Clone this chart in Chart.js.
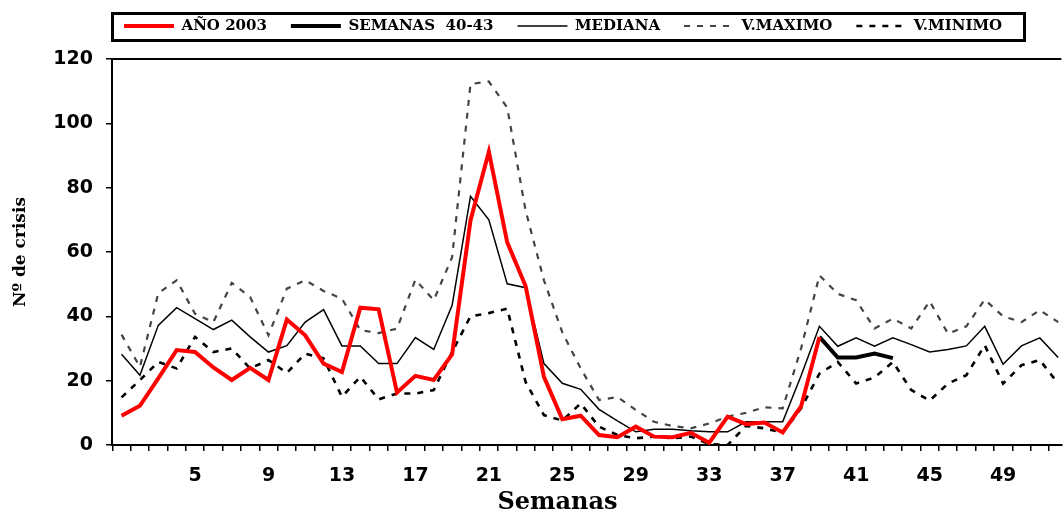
<!DOCTYPE html>
<html>
<head>
<meta charset="utf-8">
<script src="https://cdn.jsdelivr.net/npm/chart.js"></script>
<style>
  body { margin: 0; background: #fff; }
  #contenedor { width: 1063px; height: 515px; }
</style>
</head>
<body>
<div id="contenedor"><canvas id="grafico" width="1063" height="515"></canvas></div>
<script>
// Semanas 1 a 52
const semanas = Array.from({ length: 52 }, (_, i) => i + 1);

// Datos
const anio2003 = [9.1, 12.2, 20.7, 29.5, 28.9, 24.1, 20.2, 24.0, 20.2, 39.0,
  34.1, 25.3, 22.7, 42.7, 42.2, 16.3, 21.5, 20.2, 28.2, 69.8,
  91.2, 63.0, 49.4, 21.2, 8.0, 9.1, 3.1, 2.4, 5.7, 2.6,
  2.4, 3.8, 0.7, 8.8, 6.5, 7.0, 3.9, 12.0, 33.6];

// semanas 39 a 43
const semanas4043 = [33.6, 27.2, 27.2, 28.4, 27.0];

const mediana = [28.2, 21.7, 37.2, 42.7, 39.3, 35.9, 38.8, 33.6, 28.9, 30.9,
  38.2, 42.1, 30.8, 30.8, 25.3, 25.3, 33.4, 29.7, 43.4, 77.3,
  70.0, 50.1, 48.9, 25.3, 19.2, 17.3, 11.1, 7.5, 4.1, 4.9,
  4.9, 4.4, 4.1, 4.1, 7.2, 7.2, 7.2, 21.5, 36.9, 30.7,
  33.3, 30.7, 33.3, 31.2, 28.9, 29.7, 30.8, 36.9, 25.1, 30.8,
  33.3, 27.2];

const vMaximo = [34.3, 24.3, 47.2, 51.2, 40.8, 38.2, 50.4, 46.0, 34.1, 48.6,
  51.2, 47.9, 45.5, 35.7, 34.8, 36.2, 51.4, 45.0, 58.4, 112.2,
  113.0, 104.9, 72.9, 51.2, 35.0, 23.8, 14.0, 14.9, 10.9, 7.2,
  5.9, 5.2, 6.7, 8.8, 10.0, 11.7, 11.4, 30.0, 52.7, 47.0,
  45.0, 36.2, 39.3, 36.2, 44.7, 34.6, 36.9, 45.2, 40.0, 38.2,
  41.9, 38.2];

const vMinimo = [14.8, 20.2, 25.8, 23.8, 33.6, 28.9, 30.0, 23.8, 26.4, 22.4,
  28.4, 26.9, 15.0, 21.2, 14.2, 16.0, 16.0, 17.1, 28.9, 40.0,
  41.0, 42.4, 19.6, 9.3, 7.6, 12.9, 5.7, 3.1, 2.1, 2.6,
  2.1, 2.6, 0.3, 0.0, 5.9, 5.2, 3.8, 11.4, 22.2, 25.8,
  19.1, 21.0, 25.8, 17.1, 13.8, 19.1, 21.7, 31.0, 19.1, 24.8,
  26.4, 19.1];

const ticksY = [0, 20, 40, 60, 80, 100, 120];

// pasar una serie a puntos {x, y}
function puntos(valores, desde) {
  return valores.map((v, i) => ({ x: desde + i, y: v }));
}

// marco de la leyenda y linea superior del area
const marco = {
  id: 'marco',
  beforeDraw(chart) {
    const lg = chart.legend;
    lg.left = 100;
    lg.right = 1063;
    lg.top = -5.5;
  },
  afterDraw(chart) {
    const { ctx, chartArea } = chart;
    ctx.save();
    ctx.strokeStyle = '#000';
    ctx.lineWidth = 3;
    ctx.strokeRect(112.5, 13.5, 912, 27);
    ctx.lineWidth = 2;
    ctx.beginPath();
    ctx.moveTo(chartArea.left, chartArea.top);
    ctx.lineTo(chartArea.right, chartArea.top);
    ctx.stroke();
    ctx.restore();
  }
};

// leyenda con el trazo (grosor y guiones) de cada serie
function etiquetas(chart) {
  const base = Chart.defaults.plugins.legend.labels.generateLabels(chart);
  return base.map((it) => {
    const ds = chart.data.datasets[it.datasetIndex];
    return {
      ...it,
      strokeStyle: ds.borderColor,
      lineWidth: ds.borderWidth,
      lineDash: ds.borderDash || []
    };
  });
}

const fuenteNum = { family: 'DejaVu Sans', weight: 'bold', size: 19 };
const fuenteSerif = { family: 'DejaVu Serif', weight: 'bold' };

new Chart(document.getElementById('grafico'), {
  type: 'line',
  data: {
    datasets: [
      {
        label: 'AÑO 2003',
        data: puntos(anio2003, 1),
        borderColor: '#ff0000',
        backgroundColor: '#ff0000',
        borderWidth: 4,
        pointRadius: 0,
        tension: 0
      },
      {
        label: 'SEMANAS  40-43',
        data: puntos(semanas4043, 39),
        borderColor: '#000',
        backgroundColor: '#000',
        borderWidth: 4,
        pointRadius: 0,
        tension: 0
      },
      {
        label: 'MEDIANA',
        data: puntos(mediana, 1),
        borderColor: '#000',
        backgroundColor: '#000',
        borderWidth: 1.5,
        pointRadius: 0,
        tension: 0
      },
      {
        label: 'V.MAXIMO',
        data: puntos(vMaximo, 1),
        borderColor: '#444',
        backgroundColor: '#444',
        borderWidth: 2.2,
        borderDash: [6, 7],
        pointRadius: 0,
        tension: 0
      },
      {
        label: 'V.MINIMO',
        data: puntos(vMinimo, 1),
        borderColor: '#000',
        backgroundColor: '#000',
        borderWidth: 2.6,
        borderDash: [6, 7],
        pointRadius: 0,
        tension: 0
      }
    ]
  },
  options: {
    responsive: false,
    animation: false,
    layout: { padding: { top: 10, left: 0, right: 0, bottom: 0 } },
    plugins: {
      tooltip: { enabled: false },
      legend: {
        position: 'top',
        align: 'start',
        maxHeight: 57,
        labels: {
          usePointStyle: true,
          pointStyle: 'line',
          pointStyleWidth: 50,
          padding: 24,
          color: '#000',
          font: { ...fuenteSerif, size: 15 },
          generateLabels: etiquetas
        }
      }
    },
    scales: {
      x: {
        type: 'linear',
        min: 0.48,
        max: 52.17,
        afterBuildTicks: (eje) => {
          eje.ticks = semanas.map((s) => ({ value: s - 0.5 }));
        },
        afterFit: (eje) => { eje.height = 70; },
        ticks: {
          autoSkip: false,
          maxRotation: 0,
          labelOffset: 9.2,
          padding: 14,
          color: '#000',
          font: fuenteNum,
          callback: (v) => {
            const s = v + 0.5;
            return s > 1 && (s - 1) % 4 === 0 ? String(s) : '';
          }
        },
        grid: { drawOnChartArea: false, tickLength: 6, color: '#000', lineWidth: 1.5 },
        border: { color: '#000', width: 2 },
        title: {
          display: true,
          text: 'Semanas       ',
          color: '#000',
          font: { ...fuenteSerif, size: 24, lineHeight: 1 },
          padding: { top: 0, bottom: 0 }
        }
      },
      y: {
        min: 0,
        max: 120,
        afterBuildTicks: (eje) => {
          eje.ticks = ticksY.map((v) => ({ value: v }));
        },
        afterFit: (eje) => { eje.width = 112; },
        ticks: {
          padding: 13,
          color: '#000',
          font: fuenteNum
        },
        grid: { drawOnChartArea: false, tickLength: 6, color: '#000', lineWidth: 1.5 },
        border: { color: '#000', width: 2 },
        title: {
          display: true,
          text: 'Nº de crisis',
          color: '#000',
          font: { ...fuenteSerif, size: 17 },
          padding: { top: 10, bottom: 0 }
        }
      }
    }
  },
  plugins: [marco]
});
</script>
</body>
</html>
